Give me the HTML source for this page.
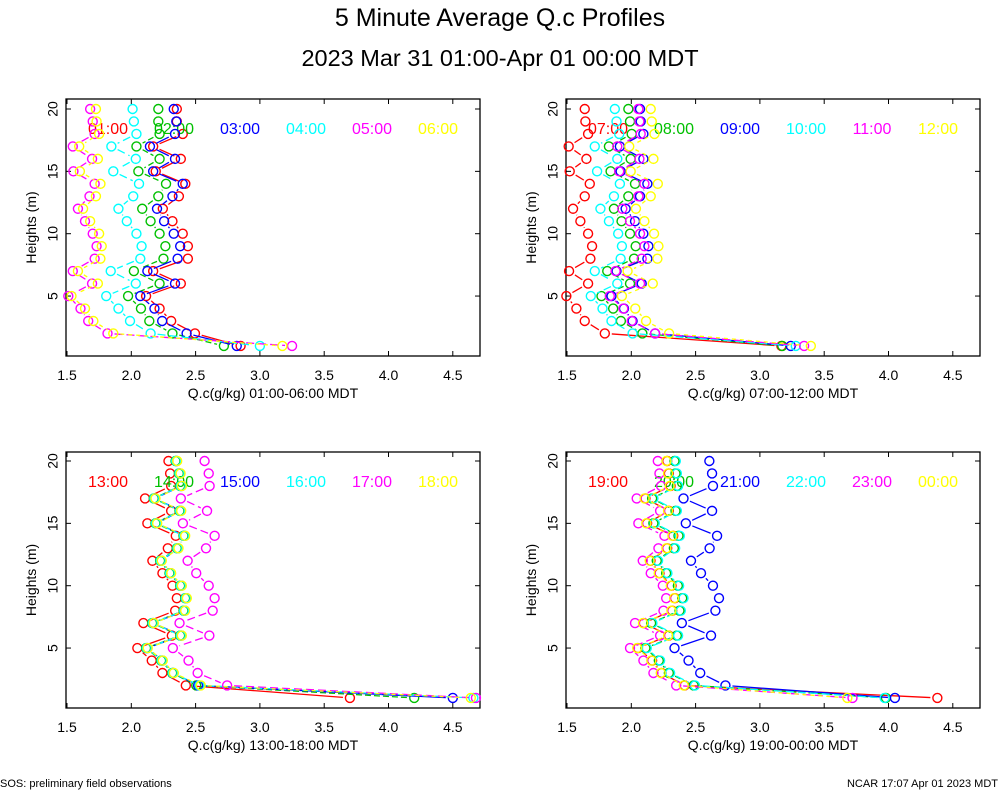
<!DOCTYPE html>
<html><head><meta charset="utf-8"><style>
body{margin:0;background:#fff;}
svg{display:block;font-family:"Liberation Sans",sans-serif;}
</style></head><body>
<svg id="chart" width="1000" height="800" xmlns="http://www.w3.org/2000/svg">
<text x="500" y="26" font-size="25" text-anchor="middle">5 Minute Average Q.c Profiles</text>
<text x="500" y="66" font-size="23.5" text-anchor="middle">2023 Mar 31 01:00-Apr 01 00:00 MDT</text>
<text x="0" y="787" font-size="11">SOS: preliminary field observations</text>
<text x="998" y="787" font-size="11" text-anchor="end">NCAR 17:07 Apr 01 2023 MDT</text>
</svg>
<script>
const heights = [20,19,18,17,16,15,14,13,12,11,10,9,8,7,6,5,4,3,2,1];
const xTicks = [1.5,2.0,2.5,3.0,3.5,4.0,4.5];
const yTicks = [5,10,15,20];
const colors = ["#ff0000","#00c000","#0000ff","#00ffff","#ff00ff","#ffff00"];
const dashes = ["none","6,3","none","8,4","8,4","4,4"];

const p1Labels = ["01:00","02:00","03:00","04:00","05:00","06:00"];
const p1Red = [2.354,2.354,2.40,2.17,2.385,2.19,2.42,2.37,2.245,2.32,2.40,2.44,2.44,2.17,2.385,2.115,2.22,2.31,2.495,2.85];
const p1Green = [2.21,2.21,2.22,2.04,2.22,2.055,2.27,2.21,2.085,2.15,2.22,2.265,2.25,2.02,2.22,1.975,2.075,2.14,2.32,2.72];
const p1Blue = [2.33,2.35,2.34,2.145,2.34,2.17,2.40,2.32,2.20,2.255,2.33,2.38,2.36,2.125,2.34,2.07,2.18,2.24,2.43,2.82];
const p1Cyan = [2.01,2.02,2.04,1.845,2.035,1.86,2.06,2.015,1.90,1.965,2.04,2.08,2.07,1.84,2.035,1.805,1.90,1.99,2.15,3.0];
const p1Magenta = [1.68,1.70,1.715,1.545,1.695,1.55,1.715,1.675,1.585,1.64,1.70,1.73,1.715,1.545,1.695,1.51,1.605,1.665,1.815,3.25];
const p1Yellow = [1.725,1.73,1.75,1.595,1.74,1.60,1.76,1.725,1.625,1.68,1.75,1.77,1.76,1.585,1.74,1.535,1.64,1.705,1.86,3.175];

const p2Labels = ["07:00","08:00","09:00","10:00","11:00","12:00"];
const p2Red = [1.638,1.643,1.664,1.513,1.651,1.521,1.677,1.638,1.547,1.604,1.664,1.695,1.682,1.516,1.664,1.495,1.573,1.638,1.794,3.167];
const p2Green = [1.977,1.990,2.003,1.826,1.995,1.839,2.029,1.977,1.865,1.924,1.990,2.034,2.021,1.813,1.990,1.768,1.859,1.919,2.086,3.174];
const p2Blue = [2.068,2.073,2.094,1.911,2.094,1.917,2.125,2.068,1.956,2.029,2.094,2.133,2.125,1.885,2.081,1.846,1.943,2.010,2.185,3.240];
const p2Cyan = [1.872,1.885,1.906,1.716,1.891,1.734,1.911,1.865,1.760,1.826,1.898,1.927,1.917,1.716,1.891,1.685,1.776,1.846,2.010,3.279];
const p2Magenta = [2.055,2.063,2.073,1.891,2.063,1.906,2.102,2.055,1.930,1.990,2.068,2.102,2.081,1.878,2.068,1.833,1.938,2.003,2.185,3.344];
const p2Yellow = [2.151,2.159,2.180,1.984,2.172,1.995,2.206,2.151,2.036,2.102,2.177,2.211,2.203,1.971,2.167,1.927,2.031,2.115,2.294,3.396];

const p3Labels = ["13:00","14:00","15:00","16:00","17:00","18:00"];
const p3Red = [2.289,2.302,2.310,2.107,2.310,2.125,2.346,2.284,2.164,2.242,2.320,2.354,2.341,2.094,2.315,2.047,2.159,2.242,2.424,3.70];
const p3Green = [2.344,2.370,2.380,2.175,2.375,2.188,2.406,2.354,2.224,2.297,2.380,2.419,2.406,2.162,2.380,2.115,2.232,2.318,2.505,4.20];
const p3Blue = [2.354,2.380,2.390,2.185,2.385,2.198,2.416,2.364,2.234,2.307,2.390,2.429,2.416,2.172,2.390,2.125,2.242,2.328,2.52,4.50];
const p3Cyan = [2.349,2.375,2.385,2.180,2.380,2.193,2.411,2.359,2.229,2.302,2.385,2.424,2.411,2.167,2.385,2.120,2.237,2.323,2.53,4.66];
const p3Magenta = [2.570,2.602,2.609,2.385,2.589,2.401,2.648,2.581,2.438,2.505,2.602,2.648,2.633,2.375,2.607,2.323,2.445,2.516,2.745,4.68];
const p3Yellow = [2.357,2.383,2.393,2.188,2.388,2.201,2.419,2.367,2.237,2.310,2.393,2.432,2.419,2.175,2.393,2.128,2.245,2.331,2.54,4.64];

const p4Labels = ["19:00","20:00","21:00","22:00","23:00","00:00"];
const p4Red = [2.279,2.292,2.305,2.110,2.292,2.123,2.326,2.279,2.149,2.219,2.313,2.339,2.318,2.097,2.292,2.052,2.162,2.235,2.414,4.38];
const p4Green = [2.336,2.344,2.354,2.162,2.344,2.172,2.367,2.331,2.198,2.271,2.362,2.396,2.375,2.154,2.354,2.110,2.214,2.292,2.485,3.98];
const p4Blue = [2.607,2.628,2.635,2.406,2.628,2.424,2.667,2.609,2.464,2.542,2.635,2.682,2.654,2.393,2.620,2.336,2.445,2.536,2.732,4.05];
const p4Cyan = [2.346,2.354,2.364,2.172,2.354,2.182,2.377,2.341,2.208,2.281,2.372,2.406,2.385,2.164,2.364,2.120,2.224,2.302,2.495,3.97];
const p4Magenta = [2.206,2.219,2.232,2.042,2.224,2.055,2.258,2.211,2.089,2.151,2.245,2.271,2.250,2.029,2.224,1.990,2.094,2.172,2.349,3.72];
const p4Yellow = [2.273,2.286,2.299,2.104,2.286,2.117,2.320,2.273,2.143,2.213,2.307,2.333,2.312,2.091,2.286,2.046,2.156,2.229,2.408,3.68];

const panels = [
 {left:66, top:99, bottom:356, y20:109, labels:p1Labels, series:[p1Red,p1Green,p1Blue,p1Cyan,p1Magenta,p1Yellow], title:"Q.c(g/kg) 01:00-06:00 MDT"},
 {left:566, top:99, bottom:356, y20:109, labels:p2Labels, series:[p2Red,p2Green,p2Blue,p2Cyan,p2Magenta,p2Yellow], title:"Q.c(g/kg) 07:00-12:00 MDT"},
 {left:66, top:452, bottom:708, y20:461, labels:p3Labels, series:[p3Red,p3Green,p3Blue,p3Cyan,p3Magenta,p3Yellow], title:"Q.c(g/kg) 13:00-18:00 MDT"},
 {left:566, top:452, bottom:708, y20:461, labels:p4Labels, series:[p4Red,p4Green,p4Blue,p4Cyan,p4Magenta,p4Yellow], title:"Q.c(g/kg) 19:00-00:00 MDT"}
];
const NS="http://www.w3.org/2000/svg";
const svg=document.getElementById('chart');
function mk(tag,attrs,parent){const e=document.createElementNS(NS,tag);for(const k in attrs)e.setAttribute(k,attrs[k]);(parent||svg).appendChild(e);return e;}

panels.forEach((p,pi)=>{
  const W=414;
  const xs=v=>p.left+1+(v-1.5)*128.6;
  const ys=h=>p.y20+(20-h)*12.47;
  const g=mk('g',{});
  
  
  const frame=mk('rect',{x:p.left,y:p.top,width:W,height:p.bottom-p.top,fill:'none',stroke:'#000','stroke-width':1.3},g);
  
  
  xTicks.forEach(t=>{
    const x=xs(t);
    mk('line',{x1:x,y1:p.bottom,x2:x,y2:p.bottom-5,stroke:'#000'},g);
    mk('line',{x1:x,y1:p.top,x2:x,y2:p.top+5,stroke:'#000'},g);
    const tl=mk('text',{x:x,y:p.bottom+24,'font-size':14,'text-anchor':'middle'},g);
    tl.textContent=t.toFixed(1);
    
    
  });
  yTicks.forEach(t=>{
    const y=ys(t);
    mk('line',{x1:p.left,y1:y,x2:p.left+5,y2:y,stroke:'#000'},g);
    mk('line',{x1:p.left+W,y1:y,x2:p.left+W-5,y2:y,stroke:'#000'},g);
    const tl=mk('text',{x:p.left-12,y:y,'font-size':14,'text-anchor':'middle',transform:`rotate(-90 ${p.left-12} ${y})`,'dominant-baseline':'middle'},g);
    tl.textContent=t;
    
    
  });
  const yc=(p.top+p.bottom)/2;
  const yt=mk('text',{x:p.left-30,y:yc,'font-size':14,'text-anchor':'middle',transform:`rotate(-90 ${p.left-30} ${yc})`},g);
  yt.textContent='Heights (m)';
  
  
  const xt=mk('text',{x:p.left+207,y:p.bottom+42,'font-size':14,'text-anchor':'middle'},g);
  xt.textContent=p.title;
  
  
  p.series.forEach((vals,si)=>{
    const sg=mk('g',{},g);
    
    
    for(let i=0;i<vals.length-1;i++){
      const x1=xs(vals[i]),y1=ys(heights[i]),x2=xs(vals[i+1]),y2=ys(heights[i+1]);
      const dx=x2-x1,dy=y2-y1,L=Math.hypot(dx,dy),gap=7;
      if(L<=2*gap)continue;
      const ux=dx/L,uy=dy/L;
      const ln=mk('line',{x1:x1+ux*gap,y1:y1+uy*gap,x2:x2-ux*gap,y2:y2-uy*gap,stroke:colors[si],'stroke-width':1.3,'stroke-dasharray':dashes[si]},sg);
      
      
    }
    vals.forEach((v,i)=>{
      const c=mk('circle',{cx:xs(v),cy:ys(heights[i]),r:4.5,fill:'none',stroke:colors[si],'stroke-width':1.4},sg);
      
      
    });
    const lt=mk('text',{x:p.left+42+si*66,y:p.top+35,'font-size':16,'text-anchor':'middle',fill:colors[si]},g);
    lt.textContent=p.labels[si];
    
    
  });
});
</script>
</body></html>
